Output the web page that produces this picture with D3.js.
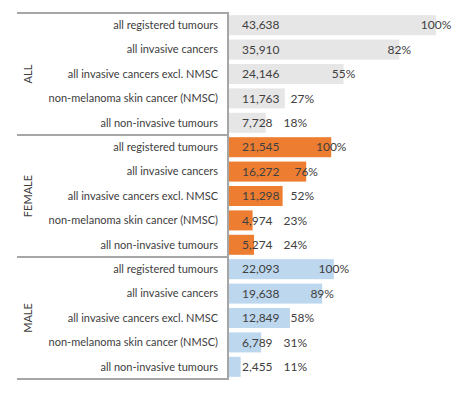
<!DOCTYPE html>
<html>
<head>
<meta charset="utf-8">
<script src="https://cdn.jsdelivr.net/npm/d3@7"></script>
<style>
  body { margin: 0; background: #fff; }
  svg text { font-family: Lato, "Liberation Sans", sans-serif; fill: #404040; }
</style>
</head>
<body>
<div id="chart"></div>
<script>
const groups = ['ALL', 'FEMALE', 'MALE'];
const categories = [
    'all registered tumours',
    'all invasive cancers',
    'all invasive cancers excl. NMSC',
    'non-melanoma skin cancer (NMSC)',
    'all non-invasive tumours'
];
const allValues = [43638, 35910, 24146, 11763, 7728];
const femaleValues = [21545, 16272, 11298, 4974, 5274];
const maleValues = [22093, 19638, 12849, 6789, 2455];
const allPct = [100, 82, 55, 27, 18];
const femalePct = [100, 76, 52, 23, 24];
const malePct = [100, 89, 58, 31, 11];
const groupColors = ['#e7e6e6', '#ed7d31', '#bdd7ee'];

const width = 459, height = 395;
const plotLeft = 228, plotTop = 13, plotBottom = 379;

let rows = [];
[allValues, femaleValues, maleValues].forEach((vals, g) => {
    let pcts = [allPct, femalePct, malePct][g];
    vals.forEach((v, i) => {
        rows.push({ key: g + '-' + i, group: g, cat: categories[i], value: v, pct: pcts[i] });
    });
});

let svg = d3.select('#chart').append('svg')
    .attr('width', width)
    .attr('height', height);

let x = d3.scaleLinear().domain([0, 45000]).range([plotLeft + 1, plotLeft + 214.5]);
let y = d3.scaleBand()
    .domain(rows.map(d => d.key))
    .range([plotTop, plotBottom])
    .paddingInner(0.18)
    .paddingOuter(0.09);
let groupY = d3.scaleBand().domain(groups).range([plotTop, plotBottom]);

// bars
svg.append('g').selectAll('rect')
    .data(rows)
    .enter()
    .append('rect')
    .attr('x', x(0))
    .attr('y', d => y(d.key))
    .attr('width', d => x(d.value) - x(0))
    .attr('height', y.bandwidth())
    .attr('fill', d => groupColors[d.group]);

// category labels
svg.append('g').selectAll('text')
    .data(rows)
    .enter()
    .append('text')
    .attr('x', 218)
    .attr('y', d => y(d.key) + y.bandwidth() / 2)
    .attr('dy', '0.35em')
    .attr('text-anchor', 'end')
    .style('font-size', '11px')
    .text(d => d.cat);

// group labels
svg.append('g').selectAll('text')
    .data(groups)
    .enter()
    .append('text')
    .attr('transform', d => `translate(32,${groupY(d) + groupY.bandwidth() / 2}) rotate(-90)`)
    .attr('text-anchor', 'middle')
    .style('font-size', '11px')
    .text(d => d);

// separators
let lines = svg.append('g')
    .attr('stroke', '#a6a6a6')
    .attr('stroke-width', 2)
    .attr('fill', 'none');
lines.selectAll('line.sep')
    .data(groups.concat(['end']))
    .enter()
    .append('line')
    .attr('x1', 17)
    .attr('x2', plotLeft)
    .attr('y1', (d, i) => i < groups.length ? groupY(d) : plotBottom)
    .attr('y2', (d, i) => i < groups.length ? groupY(d) : plotBottom);
lines.append('line')
    .attr('x1', plotLeft).attr('x2', plotLeft)
    .attr('y1', plotTop - 1).attr('y2', plotBottom + 1);

// value labels
let fmt = d3.format(',');
let valueLabels = svg.append('g').selectAll('g')
    .data(rows)
    .enter()
    .append('g');
valueLabels.append('text')
    .classed('count', true)
    .attr('x', x(0) + 13)
    .attr('y', d => y(d.key) + y.bandwidth() / 2)
    .attr('dy', '0.35em')
    .style('font-size', '12px')
    .text(d => fmt(d.value));
valueLabels.append('text')
    .classed('pct', true)
    .attr('y', d => y(d.key) + y.bandwidth() / 2)
    .attr('dy', '0.35em')
    .attr('text-anchor', 'middle')
    .style('font-size', '12px')
    .text(d => d.pct + '%')
    .attr('x', function (d) {
        let countEnd = this.parentNode.querySelector('.count').getComputedTextLength() + x(0) + 13;
        let half = this.getComputedTextLength() / 2;
        return Math.max(x(d.value), countEnd + 11 + half);
    });
</script>
</body>
</html>
